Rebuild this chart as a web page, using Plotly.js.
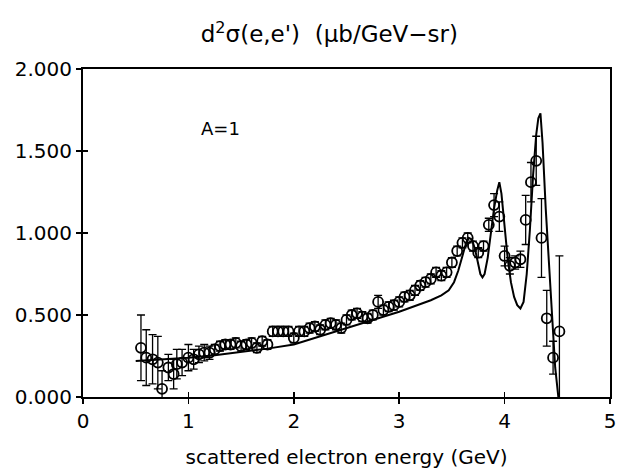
<!DOCTYPE html>
<html>
<head>
<meta charset="utf-8">
<script src="https://cdn.plot.ly/plotly-3.0.1.min.js"></script>
<style>html,body{margin:0;padding:0;background:#fff}</style>
</head>
<body>
<div id="chart" style="width:618px;height:474px"></div>
<script>
// Measured data points (scattered electron energy, GeV)
const dataE = [0.55,0.60,0.66,0.71,0.75,0.81,0.86,0.89,0.94,1.00,1.05,1.10,1.15,1.20,1.25,1.30,1.35,1.40,1.45,1.50,1.55,1.60,1.65,1.70,1.75,1.80,1.85,1.90,1.95,2.00,2.05,2.10,2.15,2.20,2.25,2.30,2.35,2.40,2.45,2.50,2.55,2.60,2.65,2.70,2.75,2.80,2.85,2.90,2.95,3.00,3.05,3.10,3.15,3.20,3.25,3.30,3.35,3.40,3.45,3.50,3.55,3.60,3.65,3.70,3.75,3.80,3.85,3.90,3.95,4.00,4.05,4.10,4.15,4.20,4.25,4.30,4.35,4.40,4.46,4.52];
const dataXS = [0.30,0.24,0.23,0.21,0.05,0.18,0.14,0.20,0.21,0.24,0.23,0.26,0.27,0.27,0.29,0.31,0.32,0.32,0.33,0.31,0.32,0.33,0.30,0.34,0.32,0.40,0.40,0.40,0.40,0.36,0.40,0.40,0.42,0.43,0.41,0.44,0.45,0.44,0.42,0.47,0.50,0.51,0.49,0.48,0.50,0.58,0.53,0.55,0.56,0.58,0.61,0.62,0.65,0.68,0.70,0.72,0.76,0.74,0.76,0.82,0.89,0.94,0.97,0.92,0.88,0.92,1.05,1.17,1.10,0.86,0.80,0.82,0.84,1.08,1.31,1.44,0.97,0.48,0.24,0.40];
const dataErr = [0.20,0.17,0.15,0.16,0.11,0.08,0.09,0.09,0.08,0.08,0.06,0.05,0.05,0.04,0.03,0.03,0.03,0.03,0.03,0.03,0.03,0.03,0.03,0.03,0.03,0.03,0.03,0.03,0.03,0.03,0.03,0.03,0.03,0.03,0.03,0.03,0.03,0.03,0.03,0.03,0.03,0.03,0.03,0.03,0.03,0.04,0.03,0.03,0.03,0.03,0.03,0.03,0.03,0.03,0.03,0.03,0.03,0.03,0.03,0.03,0.03,0.03,0.03,0.03,0.03,0.03,0.04,0.07,0.09,0.06,0.05,0.04,0.05,0.15,0.12,0.15,0.24,0.17,0.10,0.46];

// Theory curve
const theoryE  = [0.50,0.75,1.00,1.25,1.50,1.75,2.00,2.25,2.50,2.75,3.00,3.15,3.30,3.40,3.47,3.52,3.56,3.60,3.63,3.66,3.69,3.72,3.75,3.77,3.79,3.81,3.84,3.87,3.90,3.93,3.95,3.97,4.00,4.03,4.06,4.09,4.12,4.15,4.18,4.21,4.24,4.27,4.30,4.32,4.34,4.36,4.39,4.42,4.45,4.48,4.51];
const theoryXS = [0.22,0.23,0.24,0.255,0.275,0.295,0.32,0.37,0.42,0.47,0.52,0.555,0.59,0.62,0.65,0.70,0.77,0.86,0.93,0.97,0.96,0.90,0.80,0.75,0.73,0.75,0.85,1.00,1.15,1.26,1.31,1.24,1.02,0.84,0.70,0.61,0.56,0.54,0.58,0.75,1.02,1.35,1.60,1.70,1.73,1.55,1.15,0.80,0.48,0.18,0.00];

const xTicks = [0,1,2,3,4,5];
const yTicks = [0,0.5,1,1.5,2];
const yTickText = ['0.000','0.500','1.000','1.500','2.000'];

const FONT = 'DejaVu Sans, Liberation Sans, sans-serif';

const traces = [
  {
    x: theoryE, y: theoryXS, type: 'scatter', mode: 'lines',
    line: {color: '#000', width: 2}, hoverinfo: 'skip', cliponaxis: true
  },
  {
    x: dataE, y: dataXS, type: 'scatter', mode: 'markers',
    marker: {symbol: 'circle-open', size: 10, color: '#000', line: {width: 1.8, color: '#000'}},
    error_y: {type: 'data', array: dataErr, visible: true, color: '#000', thickness: 1.3, width: 4},
    cliponaxis: true
  },
  { x: [], y: [], xaxis: 'x2', yaxis: 'y2', type: 'scatter', mode: 'markers', showlegend: false }
];

const layout = {
  width: 618, height: 474,
  margin: {l: 83, r: 8, t: 69, b: 77},
  paper_bgcolor: '#fff', plot_bgcolor: '#fff',
  showlegend: false,
  font: {family: FONT, color: '#000', size: 20},
  title: {
    text: 'd<sup>2</sup>σ(e,e\')  (μb/GeV−sr)',
    x: 0.533, xref: 'container', xanchor: 'center',
    y: 0.928, yref: 'container', yanchor: 'middle',
    font: {family: FONT, size: 23, color: '#000'}
  },
  xaxis: {
    range: [0, 5], tickvals: xTicks, ticktext: xTicks.map(String),
    ticks: 'outside', ticklen: 5, tickwidth: 1.5, tickcolor: '#000',
    showline: true, linewidth: 2, linecolor: '#000', mirror: true,
    showgrid: false, zeroline: false,
    tickfont: {family: FONT, size: 20, color: '#000'},
    title: {text: 'scattered electron energy (GeV)', font: {family: FONT, size: 20, color: '#000'}, standoff: 18}
  },
  yaxis: {
    range: [0, 2], tickvals: yTicks, ticktext: yTickText,
    ticks: 'outside', ticklen: 5, tickwidth: 1.5, tickcolor: '#000',
    showline: true, linewidth: 2, linecolor: '#000', mirror: true,
    showgrid: false, zeroline: false,
    tickfont: {family: FONT, size: 20, color: '#000'}
  },
  xaxis2: {
    range: [0, 5], overlaying: 'x', anchor: 'y2', tickvals: xTicks,
    ticks: 'inside', ticklen: 5, tickwidth: 1.5, tickcolor: '#000',
    showticklabels: false, showgrid: false, zeroline: false, showline: false
  },
  yaxis2: {
    range: [0, 2], overlaying: 'y', anchor: 'x2', tickvals: yTicks,
    ticks: 'inside', ticklen: 5, tickwidth: 1.5, tickcolor: '#000',
    showticklabels: false, showgrid: false, zeroline: false, showline: false
  },
  annotations: [
    {x: 1.30, y: 1.64, xref: 'x', yref: 'y', text: 'A=1', showarrow: false,
     font: {family: FONT, size: 18, color: '#000'}}
  ]
};

Plotly.newPlot('chart', traces, layout, {staticPlot: true, displayModeBar: false});
</script>
</body>
</html>
